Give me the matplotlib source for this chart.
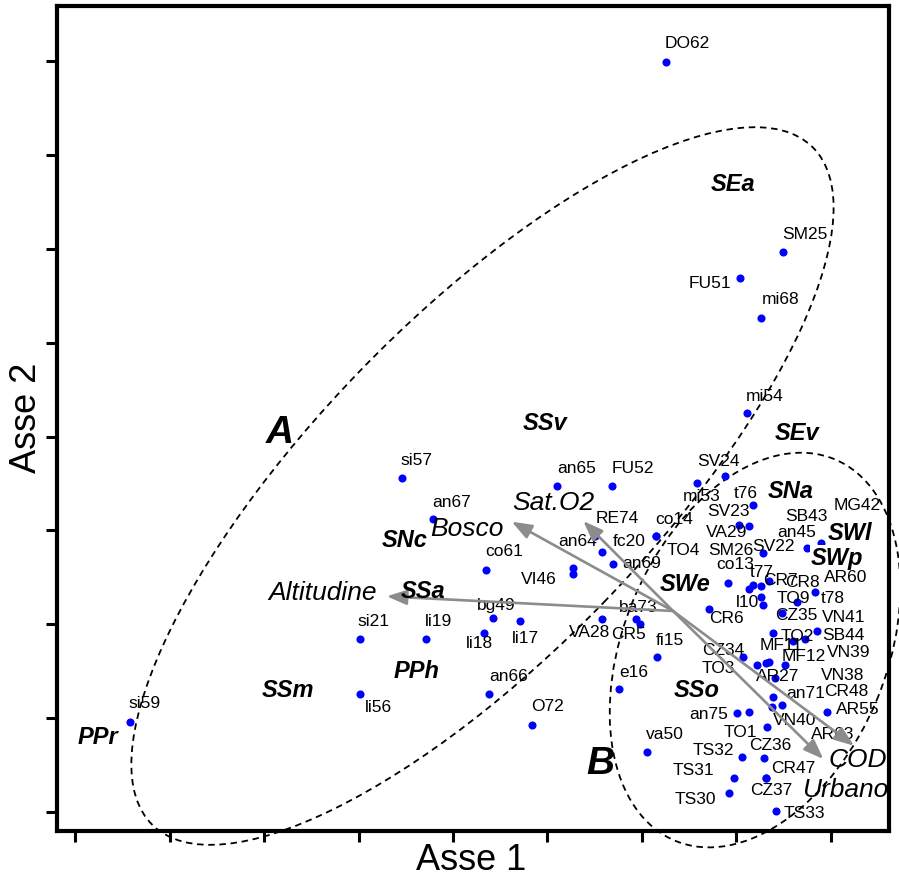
import matplotlib
matplotlib.use("Agg")
import matplotlib.pyplot as plt
from matplotlib.patches import Ellipse

plt.rcParams['font.family'] = ['Liberation Sans', 'DejaVu Sans']

# site scores on Asse 1 / Asse 2
site_names = ['DO62', 'SM25', 'FU51', 'mi68', 'mi54', 'si57', 'an67', 'co61', 'an65', 'FU52',
              'an64', 'VI46', 'RE74', 'fc20', 'an69', 'co14', 'TO4', 'mi53', 'SV24', 't76',
              'VA29', 'SV23', 'SM26', 'an45', 'SB43', 'MG42', 'co13', 't77', 'SV22', 'CR8',
              'CR7', 'l10', 'AR60', 't78', 'TO9', 'CZ35', 'CR6', 'MF11', 'TO2', 'SB44',
              'VN41', 'CZ34', 'TO3', 'VN38', 'VN39', 'MF12', 'AR27', 'an71', 'CR48', 'VN40',
              'AR63', 'an75', 'AR55', 'TO1', 'TS32', 'CZ36', 'TS31', 'CR47', 'CZ37', 'TS30',
              'TS33', 'fi15', 'e16', 'va50', 'VA28', 'ba73', 'CR5', 'bg49', 'li17', 'li18',
              'li19', 'si21', 'an66', 'li56', 'O72', 'si59']
site_x = [2.253, 3.496, 3.037, 3.266, 3.114, -0.543, -0.212, 0.346, 1.105, 1.681,
          1.274, 1.274, 1.504, 1.575, 1.698, 2.147, 2.147, 2.588, 2.881, 3.181,
          3.033, 3.139, 3.287, 3.753, 3.901, 4.078, 2.910, 3.139, 3.181, 3.263,
          3.351, 3.263, 3.287, 3.835, 3.647, 3.482, 2.715, 3.393, 3.605, 3.732,
          3.859, 3.075, 3.224, 3.316, 3.351, 3.520, 3.414, 3.393, 3.482, 3.376,
          3.139, 3.012, 3.965, 3.329, 3.058, 3.294, 2.977, 3.312, 3.312, 2.927,
          3.418, 2.164, 1.762, 2.058, 1.575, 1.935, 1.981, 0.427, 0.707, 0.325,
          -0.289, -0.988, 0.385, -0.988, 0.834, -3.422]
site_y = [3.992, 1.968, 1.691, 1.265, 0.247, -0.439, -0.879, -1.419, -0.524, -0.524,
          -1.404, -1.461, -1.056, -1.227, -1.358, -1.056, -1.056, -0.498, -0.417, -0.733,
          -0.942, -0.950, -1.244, -1.184, -1.134, -0.953, -1.563, -1.624, -1.581, -1.589,
          -1.542, -1.712, -1.794, -1.653, -1.759, -1.880, -1.837, -2.096, -2.181, -2.160,
          -2.075, -2.351, -2.433, -2.412, -2.398, -2.433, -2.572, -2.777, -2.859, -2.884,
          -2.929, -2.948, -2.929, -3.097, -3.416, -3.421, -3.634, -3.634, -3.634, -3.800,
          -3.991, -2.351, -2.689, -3.357, -1.944, -1.944, -1.994, -1.933, -1.968, -2.093,
          -2.160, -2.160, -2.739, -2.739, -3.076, -3.037]

# environmental variables (arrow tips) and biplot origin
var_names = ['Altitudine', 'Bosco', 'Sat.O2', 'COD', 'Urbano']
var_x = [-0.702, 0.622, 1.380, 4.248, 3.923]
var_y = [-1.702, -0.907, -0.900, -3.293, -3.435]
origin_x, origin_y = 2.331, -1.858

# species groups
group_names = ['SEa', 'SEv', 'SSv', 'SNa', 'SNc', 'SWl', 'SWp', 'SWe', 'SSa', 'PPh', 'SSm', 'PPr', 'SSo']
group_x = [2.963, 3.641, 0.975, 3.581, -0.508, 4.206, 4.065, 2.458, -0.315, -0.385, -1.745, -3.757, 2.582]
group_y = [2.696, 0.045, 0.151, -0.570, -1.092, -1.020, -1.286, -1.560, -1.642, -2.494, -2.689, -3.193, -2.696]

# clusters A and B (centre, width, height, angle)
cluster_names = ['A', 'B']
cluster_cx = [0.312, 3.199]
cluster_cy = [-0.527, -2.274]
cluster_w = [10.05, 4.40]
cluster_h = [3.57, 2.79]
cluster_ang = [46.0, 67.5]
cluster_lab_x = [-1.833, 1.557]
cluster_lab_y = [0.045, -3.477]

# label placement, pixel offsets from the point
lab_off = {
    'DO62': (22, 19), 'SM25': (22, 18), 'FU51': (-30, -5), 'mi68': (19, 19), 'mi54': (18, 18),
    'si57': (15, 18), 'an67': (19, 18), 'co61': (18, 19), 'an65': (19, 18), 'FU52': (21, 18),
    'an64': (4, 28), 'VI46': (-34, -5), 'RE74': (22, 18), 'fc20': (27, 11), 'an69': (28, 2),
    'co14': (18, 17), 'TO4': (28, -14), 'mi53': (4, -12), 'SV24': (-7, 15), 't76': (-8, 13),
    'VA29': (-13, -7), 'SV23': (-21, 15), 'SM26': (-33, 4), 'an45': (-11, 16), 'SB43': (-15, 28),
    'MG42': (19, 22), 'co13': (7, 20), 't77': (12, 18), 'SV22': (20, 39), 'CR8': (41, 4),
    'CR7': (11, 2), 'l10': (-14, -4), 'AR60': (82, 28), 't78': (18, -6), 'TO9': (-4, 4),
    'CZ35': (15, -1), 'CR6': (17, -8), 'MF11': (8, -11), 'TO2': (4, 6), 'SB44': (38, 5),
    'VN41': (26, 15), 'CZ34': (-20, 8), 'TO3': (-39, -3), 'VN38': (77, -11), 'VN39': (79, 10),
    'MF12': (18, 9), 'AR27': (2, 3), 'an71': (32, 5), 'CR48': (65, 14), 'VN40': (23, -12),
    'AR63': (83, -22), 'an75': (-29, 0), 'AR55': (30, 3), 'TO1': (-27, -4), 'TS32': (-28, 8),
    'CZ36': (6, 13), 'TS31': (-41, 8), 'CR47': (28, 10), 'CZ37': (6, -12), 'TS30': (-34, -5),
    'TS33': (29, -1), 'fi15': (13, 18), 'e16': (14, 18), 'va50': (18, 18), 'VA28': (-12, -12),
    'ba73': (3, 13), 'CR5': (-12, -10), 'bg49': (3, 14), 'li17': (6, -16), 'li18': (-4, -9),
    'li19': (13, 19), 'si21': (14, 19), 'an66': (19, 18), 'li56': (19, -13), 'O72': (16, 20),
    'si59': (15, 19),
}
var_off = {'Altitudine': (-10, 4, 'right'), 'Bosco': (-8, -6, 'right'), 'Sat.O2': (-30, 19, 'center'),
           'COD': (4, -13, 'center'), 'Urbano': (22, -30, 'center')}

fig = plt.figure(figsize=(8.99, 8.79), dpi=100)
ax = fig.add_axes([57 / 899, 47 / 879, 831.7 / 899, 825 / 879])

for i in range(len(cluster_names)):
    e = Ellipse((cluster_cx[i], cluster_cy[i]), cluster_w[i], cluster_h[i], angle=cluster_ang[i],
                fill=False, ec='black', lw=1.3, ls=(0, (3.6, 2.6)), clip_on=False, zorder=2)
    ax.add_patch(e)
    ax.text(cluster_lab_x[i], cluster_lab_y[i], cluster_names[i], fontsize=28, fontweight='bold',
            fontstyle='italic', ha='center', va='center', zorder=6)

ax.scatter(site_x, site_y, s=34, c='#0000ff', linewidths=0, zorder=3)
for n, x, y in zip(site_names, site_x, site_y):
    dx, dy = lab_off[n]
    ax.annotate(n, (x, y), xytext=(dx, dy), textcoords='offset pixels', fontsize=12.5,
                ha='center', va='center', color='black', zorder=4)

for n, x, y in zip(var_names, var_x, var_y):
    ax.annotate('', xy=(x, y), xytext=(origin_x, origin_y),
                arrowprops=dict(arrowstyle='-|>,head_length=1.2,head_width=0.45', color='#8c8c8c',
                                lw=1.9, shrinkA=0, shrinkB=0, mutation_scale=10), zorder=4)
    dx, dy, ha = var_off[n]
    ax.annotate(n, (x, y), xytext=(dx, dy), textcoords='offset pixels', fontsize=19,
                fontstyle='italic', ha=ha, va='center', zorder=5, annotation_clip=False)

for n, x, y in zip(group_names, group_x, group_y):
    kw = {}
    if n in ('SWl', 'SWp'):
        kw['bbox'] = dict(fc='white', ec='none', pad=0.5)
    ax.text(x, y, n, fontsize=17, fontweight='bold', fontstyle='italic',
            ha='center', va='center', zorder=6, **kw)

ax.set_xlim(-4.195, 4.615)
ax.set_ylim(-4.201, 4.585)
ax.set_xticks(range(-4, 5))
ax.set_yticks(range(-4, 5))
ax.tick_params(direction='out', length=8, width=2.2, labelbottom=False, labelleft=False)
for s in ax.spines.values():
    s.set_linewidth(3)

fig.text(471 / 899, 1 - 861 / 879, 'Asse 1', fontsize=26, ha='center', va='center')
fig.text(27 / 899, 1 - 418 / 879, 'Asse 2', fontsize=26, ha='center', va='center', rotation=90)

fig.savefig('out.png', dpi=100)
